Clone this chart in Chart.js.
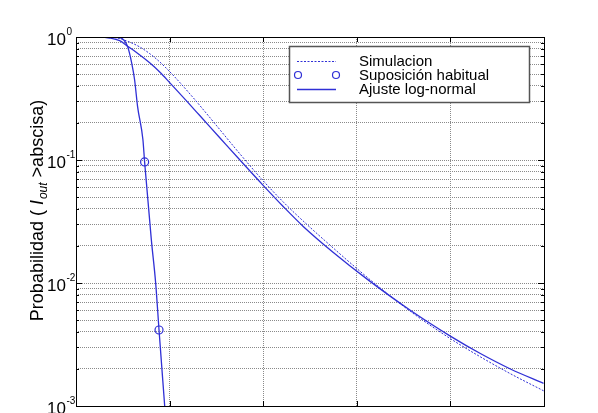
<!DOCTYPE html>
<html>
<head>
<meta charset="utf-8">
<script src="https://cdn.jsdelivr.net/npm/chart.js@4.4.1/dist/chart.umd.min.js"></script>
<style>
  html, body { margin: 0; padding: 0; background: #fff; }
  canvas { display: block; }
</style>
</head>
<body>
<canvas id="chart" width="598" height="413"></canvas>
<script>
// ─── Data ────────────────────────────────────────────────────────────────────
// x axis has no visible labels in the picture, so it runs 0..5 (one unit per grid column)
const SIM_X = [0, 0.305, 0.412, 0.498, 0.680, 0.862, 1.033, 1.247, 1.376, 1.504, 1.751, 1.997,
               2.233, 2.468, 2.768, 3.035, 3.249, 3.571, 3.999, 4.320, 4.641, 4.995];
const SIM_Y = [1, 1, 0.9906, 0.9541, 0.8307, 0.6598, 0.4930, 0.3243, 0.2482, 0.1893, 0.1122, 0.06813,
               0.04412, 0.02987, 0.01868, 0.01245, 0.00913, 0.00589, 0.00353, 0.00251, 0.00183, 0.00133];

const FIT_X = [0, 0.252, 0.359, 0.466, 0.551, 0.650, 0.787, 0.900, 1.001, 1.183, 1.322, 1.536, 1.783,
               1.997, 2.211, 2.425, 2.746, 3.110, 3.571, 3.999, 4.320, 4.641, 4.995];
const FIT_Y = [1, 0.998, 0.981, 0.933, 0.841, 0.745, 0.617, 0.515, 0.426, 0.3009, 0.2299, 0.1517, 0.0940,
               0.0625, 0.0421, 0.02896, 0.01778, 0.01075, 0.00600, 0.00370, 0.00267, 0.00200, 0.00153];

const USUAL_X = [0, 0.359, 0.466, 0.551, 0.594, 0.626, 0.658, 0.715, 0.733, 0.805, 0.851, 0.887, 0.948];
const USUAL_Y = [1, 1, 0.9906, 0.837, 0.620, 0.449, 0.272, 0.146, 0.0964, 0.0224, 0.0100, 0.00415, 0.00099];
const USUAL_MARKED = [8, 11]; // points that carry a circle

const X_TICKS = [0, 1, 2, 3, 4, 5];
const Y_DECADES = [1, 0.1, 0.01, 0.001];
const Y_EXPONENTS = ['0', '-1', '-2', '-3'];
const LEGEND_LABELS = ['Simulacion', 'Suposición habitual', 'Ajuste log-normal'];

const FONT = '"Liberation Sans", Arial, sans-serif';
const BLUE = 'rgb(48,48,214)';

// 1..9 × every decade, for the log grid
const Y_TICKS = [];
for (const d of [0.001, 0.01, 0.1]) {
  for (let k = 1; k <= 9; k++) Y_TICKS.push(+(k * d).toPrecision(3));
}
Y_TICKS.push(1);

const toPoints = (xs, ys) => xs.map((x, i) => ({ x, y: ys[i] }));

// ─── Decorations: frame, tick marks, 10^n labels, axis title, legend ───────
const decorations = {
  id: 'decorations',
  afterDraw(chart) {
    const { ctx, chartArea: a, scales: { x, y } } = chart;
    ctx.save();

    // frame + inward ticks
    ctx.strokeStyle = '#000';
    ctx.lineWidth = 1;
    ctx.strokeRect(Math.round(a.left) + 0.5, Math.round(a.top) + 0.5,
                   Math.round(a.right - a.left), Math.round(a.bottom - a.top));
    ctx.beginPath();
    for (const v of Y_TICKS) {
      const py = Math.round(y.getPixelForValue(v)) + 0.5;
      const len = Y_DECADES.includes(v) ? 6 : 3;
      ctx.moveTo(a.left, py); ctx.lineTo(a.left + len, py);
      ctx.moveTo(a.right, py); ctx.lineTo(a.right - len, py);
    }
    for (const v of X_TICKS) {
      const px = Math.round(x.getPixelForValue(v)) + 0.5;
      ctx.moveTo(px, a.top); ctx.lineTo(px, a.top + 5);
      ctx.moveTo(px, a.bottom); ctx.lineTo(px, a.bottom - 5);
    }
    ctx.stroke();

    // y tick labels: "10" with a superscript exponent
    ctx.fillStyle = '#000';
    ctx.textBaseline = 'middle';
    ctx.textAlign = 'left';
    Y_DECADES.forEach((v, i) => {
      const py = y.getPixelForValue(v);
      ctx.font = '17px ' + FONT;
      ctx.fillText('10', 47, py + 3);
      const w = ctx.measureText('10').width;
      ctx.font = '10px ' + FONT;
      ctx.fillText(Y_EXPONENTS[i], 47 + w + 0.5, py - 5);
    });

    // rotated y title with italic I_out
    const parts = [
      { t: 'Probabilidad ( ', font: '18px ' + FONT, dy: 0 },
      { t: 'I', font: 'italic 18px ' + FONT, dy: 0 },
      { t: 'out', font: 'italic 12px ' + FONT, dy: 4 },
      { t: ' >abscisa)', font: '18px ' + FONT, dy: 0 },
    ];
    let total = 0;
    for (const p of parts) { ctx.font = p.font; p.w = ctx.measureText(p.t).width; total += p.w; }
    ctx.translate(43, 211);
    ctx.rotate(-Math.PI / 2);
    ctx.textBaseline = 'alphabetic';
    let cx = -total / 2;
    for (const p of parts) {
      ctx.font = p.font;
      ctx.fillText(p.t, cx, p.dy);
      cx += p.w + (p.t === 'I' ? 1 : 0);
    }
    ctx.setTransform(1, 0, 0, 1, 0, 0);

    // legend box
    ctx.fillStyle = '#fff';
    ctx.fillRect(289.5, 46.5, 240, 56);
    ctx.strokeStyle = '#555';
    ctx.lineWidth = 1.5;
    ctx.strokeRect(289.5, 46.5, 240, 56);

    const rows = [61, 75, 89];
    ctx.strokeStyle = BLUE;
    // Simulacion: dashed
    ctx.lineWidth = 1;
    ctx.setLineDash([2, 1.5]);
    ctx.beginPath(); ctx.moveTo(297, rows[0] + 0.5); ctx.lineTo(336, rows[0] + 0.5); ctx.stroke();
    ctx.setLineDash([]);
    // Suposición habitual: two circles
    ctx.lineWidth = 1.2;
    for (const cxp of [298, 336]) {
      ctx.beginPath(); ctx.arc(cxp, rows[1], 3.5, 0, Math.PI * 2); ctx.stroke();
    }
    // Ajuste log-normal: solid
    ctx.lineWidth = 1.3;
    ctx.beginPath(); ctx.moveTo(297, rows[2] + 0.5); ctx.lineTo(336, rows[2] + 0.5); ctx.stroke();

    ctx.fillStyle = '#000';
    ctx.font = '15px ' + FONT;
    ctx.textBaseline = 'middle';
    LEGEND_LABELS.forEach((t, i) => ctx.fillText(t, 359, rows[i] + 1));

    ctx.restore();
  },
};

// ─── Chart ─────────────────────────────────────────────────────────────────
new Chart(document.getElementById('chart'), {
  type: 'line',
  data: {
    datasets: [
      {
        label: LEGEND_LABELS[0],
        data: toPoints(SIM_X, SIM_Y),
        borderColor: BLUE,
        borderWidth: 1,
        borderDash: [2, 1.5],
        pointRadius: 0,
        cubicInterpolationMode: 'monotone',
      },
      {
        label: LEGEND_LABELS[1],
        data: toPoints(USUAL_X, USUAL_Y),
        borderColor: BLUE,
        borderWidth: 1.3,
        pointRadius: USUAL_X.map((_, i) => (USUAL_MARKED.includes(i) ? 4 : 0)),
        pointBorderColor: BLUE,
        pointBackgroundColor: 'rgba(0,0,0,0)',
        pointBorderWidth: 1.2,
        cubicInterpolationMode: 'monotone',
      },
      {
        label: LEGEND_LABELS[2],
        data: toPoints(FIT_X, FIT_Y),
        borderColor: BLUE,
        borderWidth: 1.3,
        pointRadius: 0,
        cubicInterpolationMode: 'monotone',
      },
    ],
  },
  options: {
    responsive: false,
    animation: false,
    devicePixelRatio: 1,
    layout: { padding: { left: 76, right: 54, top: 37, bottom: 7 } },
    plugins: { legend: { display: false }, tooltip: { enabled: false } },
    scales: {
      x: {
        type: 'linear',
        min: 0,
        max: 5,
        afterBuildTicks: s => { s.ticks = X_TICKS.map(value => ({ value })); },
        ticks: { display: false, autoSkip: false },
        grid: { color: '#8a8a8a', lineWidth: 1, drawTicks: false },
        border: { display: false, dash: [1, 1] },
      },
      y: {
        type: 'logarithmic',
        min: 0.001,
        max: 1,
        afterBuildTicks: s => { s.ticks = Y_TICKS.map(value => ({ value })); },
        ticks: { display: false, autoSkip: false },
        grid: { color: '#8a8a8a', lineWidth: 1, drawTicks: false },
        border: { display: false, dash: [1, 1] },
      },
    },
  },
  plugins: [decorations],
});
</script>
</body>
</html>
